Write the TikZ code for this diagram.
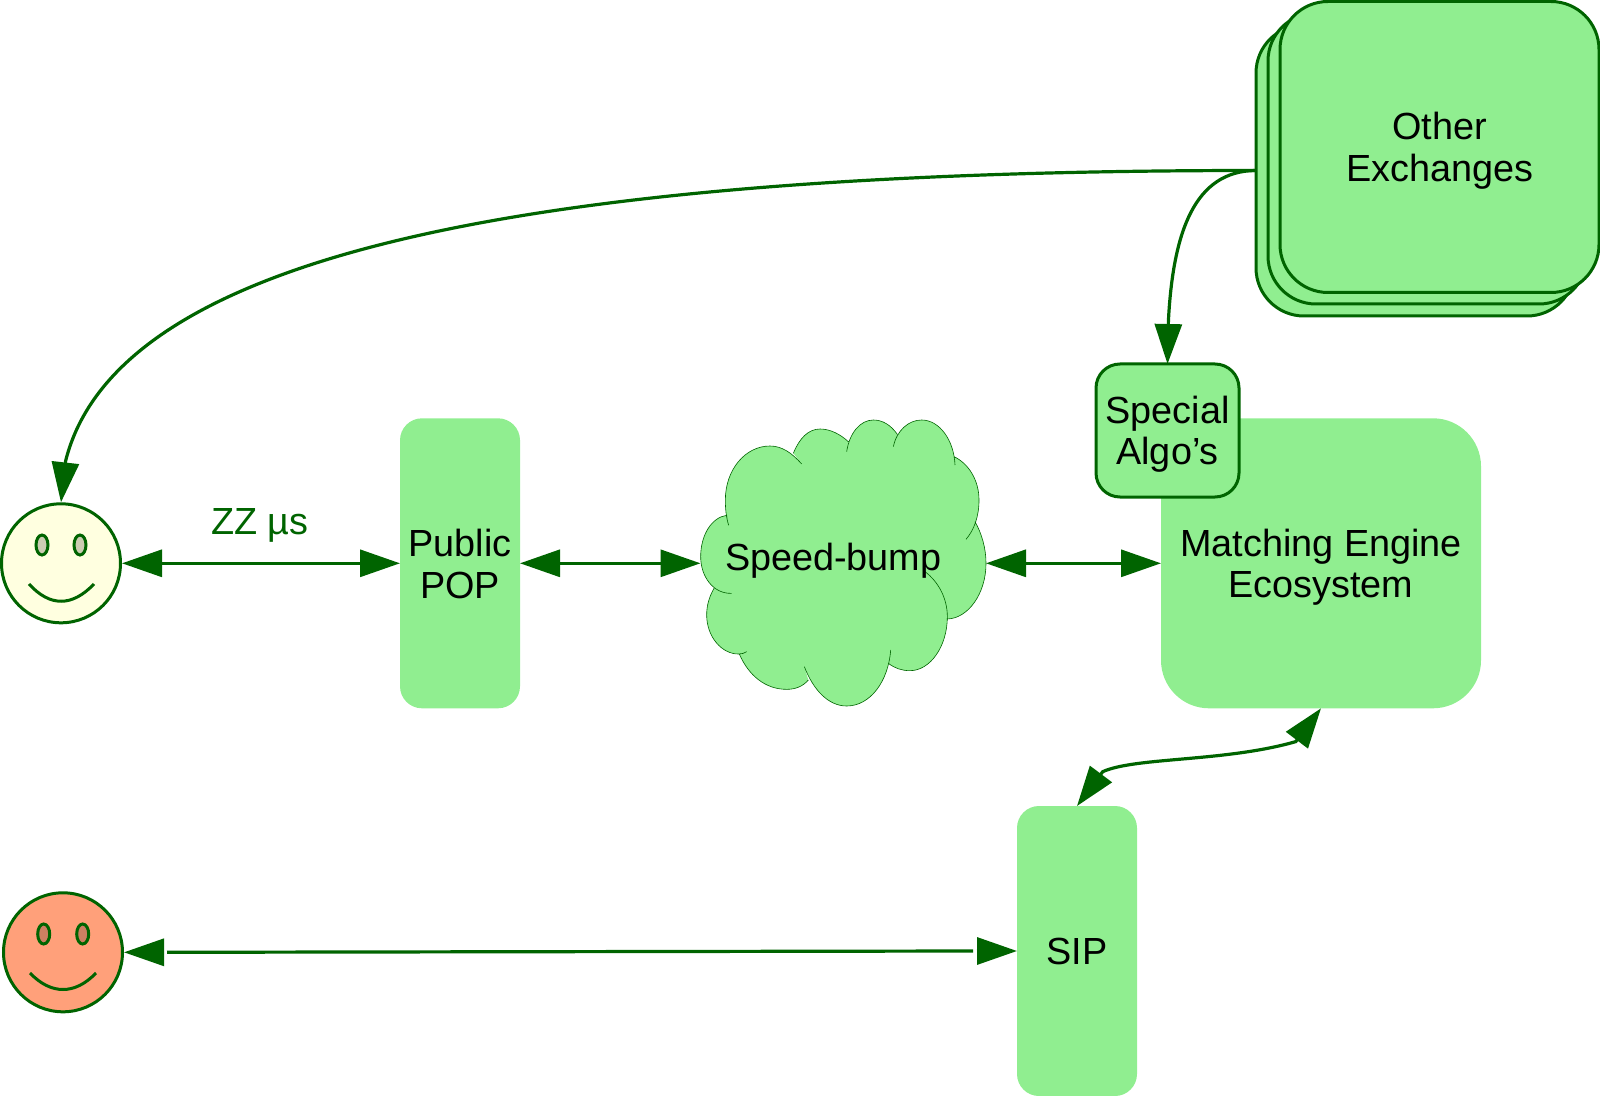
\documentclass[tikz,border=0pt]{standalone}
\usepackage{fontspec}
\setmainfont{Liberation Sans}
\usetikzlibrary{arrows.meta}
\definecolor{boxgreen}{HTML}{90EE90}
\definecolor{linegreen}{HTML}{006400}
\definecolor{faceyellow}{HTML}{FFFFE0}
\definecolor{eyeyellow}{HTML}{CCCCB3}
\definecolor{facesalmon}{HTML}{FFA07A}
\definecolor{eyesalmon}{HTML}{CC8062}
\tikzset{
  lbl/.style={font=\fontsize{18.9}{20.8}\selectfont,align=center,inner sep=0pt,outer sep=0pt},
  plainbox/.style={lbl,fill=boxgreen,rounded corners=#1},
  linedbox/.style={lbl,fill=boxgreen,draw=linegreen,line width=1.5pt,rounded corners=#1},
  facecirc/.style={circle,draw=linegreen,line width=1.5pt,minimum size=59.5pt,inner sep=0pt,outer sep=0.75pt},
  faceline/.style={draw=linegreen,line width=1.5pt},
  conn/.style={draw=linegreen,line width=1.6pt},
  both/.style={conn,{Triangle[length=20pt,width=13.5pt]}-{Triangle[length=20pt,width=13.5pt]}},
  toend/.style={conn,-{Triangle[length=20pt,width=13.5pt]}},
  cloudline/.style={draw=linegreen,line width=0.3pt},
}
\begin{document}
\begin{tikzpicture}[x=0.5pt,y=-0.5pt]
\useasboundingbox (0,0) rectangle (1600,1096);
% stacked boxes
\node[linedbox=24pt,minimum width=159.5pt,minimum height=145.5pt] (otherC) at (1415.5,170.5) {};
\node[linedbox=24pt,minimum width=159.5pt,minimum height=145.5pt] (otherB) at (1427.5,158.5) {};
\node[linedbox=24pt,minimum width=159.5pt,minimum height=145.5pt] (otherA) at (1439.5,147) {\rule{0pt}{17.4pt}Other\\Exchanges};
% main boxes
\node[plainbox=11pt,minimum width=60pt,minimum height=145pt] (pop) at (460,563.3) {\rule{0pt}{14.3pt}Public\\POP};
\node[plainbox=24pt,minimum width=160pt,minimum height=145pt] (engine) at (1321,563.3) {\rule{0pt}{17.5pt}Matching Engine\\Ecosystem};
\node[linedbox=12pt,minimum width=71.5pt,minimum height=66.5pt] (algo) at (1167.5,430.5) {\rule{0pt}{17.4pt}Special\\Algo’s};
\node[plainbox=11pt,minimum width=60pt,minimum height=145pt] (sip) at (1077,951) {\rule{0pt}{14.1pt}SIP};
% cloud
\begin{scope}[shift={(680,400)},x=0.16667pt,y=-0.16667pt]
\fill[boxgreen]
  (146,376) .. controls (142,362) and (140,355) .. (140,346) .. controls (95,352) and (62,405) .. (62,470) .. controls (62,530) and (100,582) .. (155,580)
  -- (102,565) .. controls (88,590) and (80,615) .. (80,645) .. controls (80,710) and (125,762) .. (175,762) .. controls (185,762) and (193,760) .. (200,755)
  -- (178,762) .. controls (205,825) and (255,868) .. (320,868) .. controls (345,868) and (368,860) .. (385,840)
  -- (373,800) .. controls (400,870) and (445,918) .. (500,918) .. controls (570,918) and (625,845) .. (632,750)
  -- (625,790) .. controls (645,805) and (665,812) .. (690,812) .. controls (750,812) and (802,740) .. (802,650) .. controls (802,595) and (775,545) .. (735,515)
  -- (802,657) .. controls (865,655) and (918,580) .. (918,490) .. controls (918,445) and (905,400) .. (885,365)
  -- (858,418) .. controls (882,390) and (897,350) .. (897,300) .. controls (897,240) and (865,190) .. (822,170)
  -- (825,195) .. controls (822,120) and (778,60) .. (725,60) .. controls (685,60) and (650,92) .. (640,140)
  -- (652,103) .. controls (632,75) and (608,60) .. (580,60) .. controls (540,60) and (508,100) .. (500,155)
  -- (505,125) .. controls (480,102) and (450,87) .. (420,87) .. controls (385,87) and (358,115) .. (340,160)
  -- (365,192) .. controls (335,158) and (305,138) .. (270,138) .. controls (195,138) and (136,210) .. (136,300) .. controls (136,325) and (138,350) .. (146,376)
  -- cycle;
\draw[cloudline]
  (146,376) .. controls (142,362) and (140,355) .. (140,346) .. controls (95,352) and (62,405) .. (62,470) .. controls (62,530) and (100,582) .. (155,580)
  (102,565) .. controls (88,590) and (80,615) .. (80,645) .. controls (80,710) and (125,762) .. (175,762) .. controls (185,762) and (193,760) .. (200,755)
  (178,762) .. controls (205,825) and (255,868) .. (320,868) .. controls (345,868) and (368,860) .. (385,840)
  (373,800) .. controls (400,870) and (445,918) .. (500,918) .. controls (570,918) and (625,845) .. (632,750)
  (625,790) .. controls (645,805) and (665,812) .. (690,812) .. controls (750,812) and (802,740) .. (802,650) .. controls (802,595) and (775,545) .. (735,515)
  (802,657) .. controls (865,655) and (918,580) .. (918,490) .. controls (918,445) and (905,400) .. (885,365)
  (858,418) .. controls (882,390) and (897,350) .. (897,300) .. controls (897,240) and (865,190) .. (822,170)
  (825,195) .. controls (822,120) and (778,60) .. (725,60) .. controls (685,60) and (650,92) .. (640,140)
  (652,103) .. controls (632,75) and (608,60) .. (580,60) .. controls (540,60) and (508,100) .. (500,155)
  (505,125) .. controls (480,102) and (450,87) .. (420,87) .. controls (385,87) and (358,115) .. (340,160)
  (365,192) .. controls (335,158) and (305,138) .. (270,138) .. controls (195,138) and (136,210) .. (136,300) .. controls (136,325) and (138,350) .. (146,376);
\end{scope}
\node[lbl,anchor=base] (bump) at (833.3,570) {Speed-bump};
\coordinate (cloudW) at (700.5,563.3);
\coordinate (cloudE) at (986,563.3);
% faces
\node[facecirc,fill=faceyellow] (happy) at (61,563.3) {};
\draw[faceline,fill=eyeyellow] (42,545) ellipse [x radius=6,y radius=10];
\draw[faceline,fill=eyeyellow] (80,545) ellipse [x radius=6,y radius=10];
\draw[faceline] (29,584) .. controls (50,607) and (72,607) .. (94,584);
\node[facecirc,fill=facesalmon] (sad) at (63,952.3) {};
\draw[faceline,fill=eyesalmon] (43.7,934) ellipse [x radius=6,y radius=10];
\draw[faceline,fill=eyesalmon] (82.7,934) ellipse [x radius=6,y radius=10];
\draw[faceline] (30,973) .. controls (51,995) and (75,995) .. (96,973);
% connectors
\coordinate (sadStem) at (167,952.3);
\coordinate (sipStem) at (973,951);
\coordinate (sadBase) at (164,952.3);
\coordinate (sipBase) at (976.5,951);
\coordinate (sipBend) at (1102.7,771.7);
\coordinate (engBend) at (1295.8,741.6);
\coordinate (happyBend) at (65.6,461);
\coordinate (algoBend) at (1168.4,321);
\draw[both] (happy.east) -- (pop.west);
\draw[both] (pop.east) -- (cloudW);
\draw[both] (cloudE) -- (engine.west);
\draw[conn] (sadStem) -- (sipStem);
\draw[toend] (sadBase) -- (sad.east);
\draw[toend] (sipBase) -- (sip.west);
\draw[both] (sip.north) -- (sipBend) .. controls (1135,757) and (1225,762) .. (engBend) -- (engine.south);
\draw[toend] (otherC.west) .. controls (500,170.5) and (115.6,261) .. (happyBend) -- (happy.north);
\draw[toend] (otherC.west) .. controls (1195,170.7) and (1173,231) .. (algoBend) -- (algo.north);
\node[lbl,anchor=base,text=linegreen] (zz) at (260,534) {ZZ µs};
\end{tikzpicture}
\end{document}
